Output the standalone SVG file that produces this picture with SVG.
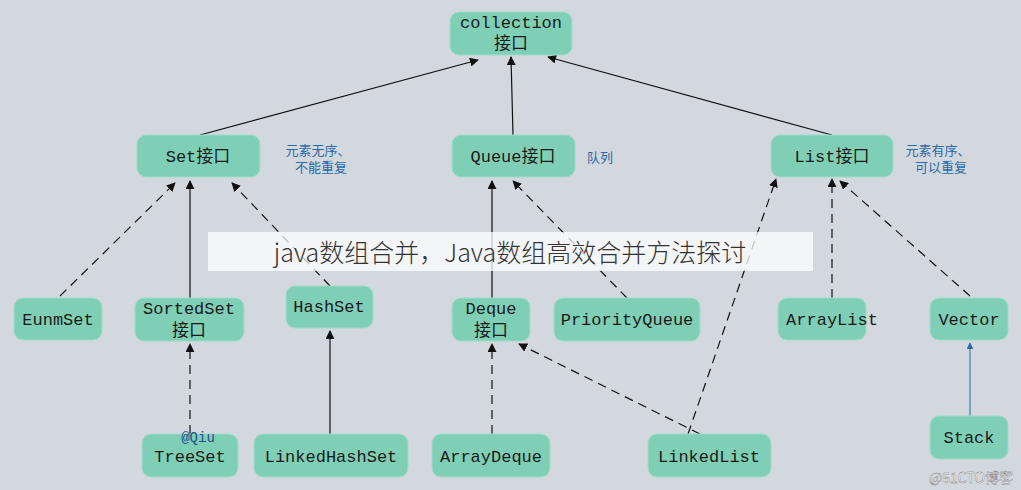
<svg xmlns="http://www.w3.org/2000/svg" width="1021" height="490" viewBox="0 0 1021 490">
<style>
.n rect{fill:#7fcfb6;stroke:#9fdcc8;stroke-width:1}
.n text{font-family:"Liberation Mono","Noto Sans CJK SC",monospace;font-size:17px;fill:#1a1a1a;text-anchor:middle}
.e line{stroke:#111;stroke-width:1.2;marker-end:url(#a)}
.d{stroke-dasharray:9,6}
.lb{font-family:"Noto Sans CJK SC",sans-serif;font-size:13px;fill:#2a6aa8;text-anchor:middle}
</style>
<defs><marker id="a" viewBox="0 0 10 10" refX="9" refY="5" markerWidth="9" markerHeight="9" markerUnits="userSpaceOnUse" orient="auto"><path d="M0,0L10,5L0,10z" fill="#111"/></marker>
<marker id="b" viewBox="0 0 10 10" refX="9" refY="5" markerWidth="7" markerHeight="7" markerUnits="userSpaceOnUse" orient="auto"><path d="M0,0L10,5L0,10z" fill="#2a6aa8"/></marker></defs>
<rect width="1021" height="490" fill="#d3d7de"/>
<g class="e">
<line x1="200" y1="135" x2="478" y2="60"/>
<line x1="513" y1="135" x2="511" y2="57"/>
<line x1="832" y1="135" x2="548" y2="57"/>
<line class="d" x1="60" y1="296" x2="175" y2="183"/>
<line x1="190" y1="298" x2="190" y2="181"/>
<line class="d" x1="330" y1="286" x2="232" y2="183"/>
<line x1="492" y1="298" x2="492" y2="181"/>
<line class="d" x1="627" y1="298" x2="513" y2="181"/>
<line class="d" x1="832" y1="298" x2="832" y2="179"/>
<line class="d" x1="970" y1="296" x2="840" y2="181"/>
<line class="d" x1="688" y1="434" x2="776" y2="179"/>
<line class="d" x1="190" y1="434" x2="190" y2="344"/>
<line x1="330" y1="434" x2="330" y2="331"/>
<line class="d" x1="492" y1="434" x2="492" y2="344"/>
<line class="d" x1="700" y1="434" x2="519" y2="344"/>
<line x1="970" y1="416" x2="970" y2="343" style="stroke:#2a6aa8;stroke-width:1;marker-end:url(#b)"/>
</g>
<g id="collection" class="n"><rect x="450" y="12" width="122" height="43" rx="9"/><text x="511" y="28">collection</text><text x="511" y="49">接口</text></g>
<g id="set" class="n"><rect x="137" y="135" width="123" height="42" rx="9"/><text x="198" y="162">Set接口</text></g>
<g id="queue" class="n"><rect x="452" y="135" width="123" height="42" rx="9"/><text x="513" y="162">Queue接口</text></g>
<g id="list" class="n"><rect x="771" y="135" width="122" height="42" rx="9"/><text x="832" y="162">List接口</text></g>
<g id="eunmset" class="n"><rect x="14" y="298" width="88" height="42" rx="9"/><text x="58" y="325">EunmSet</text></g>
<g id="sortedset" class="n"><rect x="135" y="298" width="109" height="43" rx="9"/><text x="189" y="314">SortedSet</text><text x="189" y="336">接口</text></g>
<g id="hashset" class="n"><rect x="286" y="286" width="87" height="42" rx="9"/><text x="329" y="312">HashSet</text></g>
<g id="deque" class="n"><rect x="452" y="298" width="78" height="43" rx="9"/><text x="491" y="314">Deque</text><text x="491" y="336">接口</text></g>
<g id="priorityqueue" class="n"><rect x="554" y="298" width="146" height="43" rx="9"/><text x="627" y="325">PriorityQueue</text></g>
<g id="arraylist" class="n"><rect x="778" y="298" width="88" height="42" rx="9"/><text x="832" y="325">ArrayList</text></g>
<g id="vector" class="n"><rect x="930" y="298" width="78" height="42" rx="9"/><text x="969" y="325">Vector</text></g>
<g id="treeset" class="n"><rect x="142" y="434" width="96" height="43" rx="9"/><text x="190" y="462">TreeSet</text></g>
<g id="linkedhashset" class="n"><rect x="254" y="434" width="154" height="43" rx="9"/><text x="331" y="462">LinkedHashSet</text></g>
<g id="arraydeque" class="n"><rect x="432" y="434" width="118" height="43" rx="9"/><text x="491" y="462">ArrayDeque</text></g>
<g id="linkedlist" class="n"><rect x="648" y="434" width="123" height="43" rx="9"/><text x="709" y="462">LinkedList</text></g>
<g id="stack" class="n"><rect x="930" y="416" width="78" height="43" rx="9"/><text x="969" y="443">Stack</text></g>
<text x="198" y="442" style="font-family:'Liberation Mono',monospace;font-size:14px;fill:#1f4f8a;text-anchor:middle">@Qiu</text>
<text class="lb" x="318" y="155">元素无序、</text><text class="lb" x="321" y="172">不能重复</text>
<text class="lb" x="600" y="162">队列</text>
<text class="lb" x="938" y="155">元素有序、</text><text class="lb" x="941" y="172">可以重复</text>
<rect x="208" y="232" width="605" height="39" fill="#ffffff" fill-opacity="0.75"/>
<text x="510" y="262" style="font-family:'Noto Sans CJK SC',sans-serif;font-weight:300;font-size:25px;fill:#333;text-anchor:middle">java数组合并，Java数组高效合并方法探讨</text>
<text x="971" y="483" style="font-family:'Noto Sans CJK SC',sans-serif;font-size:14px;fill:#fff;stroke:#777;stroke-width:0.4;text-anchor:middle">@51CTO博客</text>
</svg>
